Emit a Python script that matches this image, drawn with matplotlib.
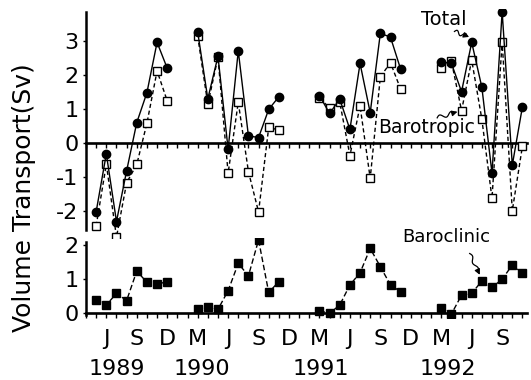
import numpy as np
import matplotlib
matplotlib.use("Agg")
import matplotlib.pyplot as plt
from matplotlib.transforms import blended_transform_factory

plt.rcParams['font.family'] = ['DejaVu Sans']

# Observation months: (year, month) per segment
years = [1989, 1990, 1991, 1992]
seg_months = [list(range(5, 13)), list(range(3, 12)), list(range(3, 12)), list(range(3, 12))]

total = [
    [-2.02, -0.32, -2.31, -0.82, 0.60, 1.48, 2.96, 2.20],
    [3.27, 1.30, 2.55, -0.18, 2.71, 0.21, 0.16, 0.99, 1.36],
    [1.39, 0.87, 1.29, 0.40, 2.34, 0.89, 3.23, 3.11, 2.17],
    [2.39, 2.34, 1.51, 2.96, 1.64, -0.89, 3.86, -0.65, 1.07],
]
barotropic = [
    [-2.44, -0.62, -2.77, -1.17, -0.63, 0.58, 2.12, 1.24],
    [3.15, 1.14, 2.52, -0.89, 1.20, -0.84, -2.03, 0.46, 0.38],
    [1.31, 1.04, 1.20, -0.37, 1.09, -1.04, 1.95, 2.36, 1.58],
    [2.20, 2.41, 0.95, 2.44, 0.70, -1.63, 2.98, -1.99, -0.09],
]
baroclinic = [
    [0.38, 0.23, 0.57, 0.36, 1.23, 0.90, 0.84, 0.92],
    [0.11, 0.18, 0.10, 0.65, 1.46, 1.09, 2.15, 0.60, 0.92],
    [0.06, -0.02, 0.23, 0.82, 1.18, 1.90, 1.36, 0.82, 0.62],
    [0.13, -0.04, 0.52, 0.57, 0.94, 0.75, 0.99, 1.41, 1.17],
]

tick_labels = ['J', 'S', 'D', 'M', 'J', 'S', 'D', 'M', 'J', 'S', 'D', 'M', 'J', 'S']
tick_months = [(1989, 6), (1989, 9), (1989, 12), (1990, 3), (1990, 6), (1990, 9), (1990, 12),
               (1991, 3), (1991, 6), (1991, 9), (1991, 12), (1992, 3), (1992, 6), (1992, 9)]
year_labels = ['1989', '1990', '1991', '1992']
year_pos = [(1989, 7), (1990, 3.4), (1991, 3.1), (1992, 3.6)]


def mi(y, m):
    return (y - 1989) * 12 + (m - 1)


fig = plt.figure(figsize=(5.31, 3.80), dpi=100)
L, W = 0.162, 0.8305
ax1 = fig.add_axes([L, 0.3732, W, 0.6039])
ax2 = fig.add_axes([L, 0.1637, W, 0.2092])
for ax in (ax1, ax2):
    ax.patch.set_alpha(0)
    ax.set_xlim(3.0, 46.45)
    ax.spines['top'].set_visible(False)
    ax.spines['right'].set_visible(False)
    ax.spines['bottom'].set_position(('data', 0))
    ax.spines['bottom'].set_linewidth(1.9)
    ax.spines['left'].set_linewidth(1.8)
    ax.set_xticks(np.arange(3, 47), minor=True)
    ax.tick_params(axis='x', which='both', direction='out', length=3.5, width=1.0)
    ax.tick_params(axis='y', direction='out', length=2.5, width=1.0, labelsize=16, pad=3)

ax1.set_ylim(-2.8, 3.95)
ax1.spines['left'].set_bounds(-2.56, 3.85)
ax1.set_yticks([-2, -1, 0, 1, 2, 3])
ax1.set_yticklabels(['-2', '-1', '0', '1', '2', '3'])
ax1.set_xticks([mi(y, m) for y, m in tick_months])
ax1.set_xticklabels([])

ax2.set_ylim(-0.15, 2.2)
ax2.spines['left'].set_bounds(-0.07, 2.1)
ax2.set_yticks([0, 1, 2])
ax2.set_xticks([mi(y, m) for y, m in tick_months])
ax2.set_xticklabels(tick_labels, fontsize=16)
ax2.tick_params(axis='x', which='major', pad=8)

for i, yr in enumerate(years):
    xs = [mi(yr, m) for m in seg_months[i]]
    ax1.plot(xs, barotropic[i], ls=(0, (3, 2)), color='black', lw=1.0, marker='s',
             ms=6.3, mfc='white', mec='black', mew=1.0, zorder=3)
    ax1.plot(xs, total[i], ls='-', color='black', lw=1.0, marker='o',
             ms=6, mfc='black', mec='black', zorder=4)
    ax2.plot(xs, baroclinic[i], ls=(0, (4, 2)), color='black', lw=1.0, marker='s',
             ms=5.5, mfc='black', mec='black', zorder=3)


def squiggle_arrow(ax, start, end, amp=2.0, waves=1.5):
    """Wavy leader line with an arrow head, drawn in display space."""
    fig.canvas.draw()
    p0 = ax.transData.transform(start)
    p1 = ax.transData.transform(end)
    d = p1 - p0
    n = np.array([-d[1], d[0]]) / np.hypot(*d)
    t = np.linspace(0, 0.85, 60)
    pts = p0 + np.outer(t, d) + np.outer(amp * np.sin(2 * np.pi * waves * t / 0.85), n)
    data = ax.transData.inverted().transform(pts)
    ax.plot(data[:, 0], data[:, 1], color='black', lw=0.9, clip_on=False, zorder=5)
    ax.annotate('', xy=end, xytext=tuple(data[-1]), annotation_clip=False,
                arrowprops=dict(arrowstyle='-|>', color='black', lw=0.9,
                                mutation_scale=8, shrinkA=0, shrinkB=0))


ax1.text(38.25, 3.62, 'Total', fontsize=14, ha='center', va='center')
squiggle_arrow(ax1, (39.3, 3.28), (40.75, 3.12))
ax1.text(36.58, 0.45, 'Barotropic', fontsize=13.5, ha='center', va='center')
squiggle_arrow(ax1, (37.6, 0.74), (39.6, 0.92))
ax2.text(38.45, 2.24, 'Baroclinic', fontsize=13, ha='center', va='center', clip_on=False)
squiggle_arrow(ax2, (40.8, 1.75), (41.8, 1.12), amp=1.5)

tr = blended_transform_factory(ax2.transData, fig.transFigure)
for lab, (y, m) in zip(year_labels, year_pos):
    ax2.text(mi(y, m), 0.030, lab, transform=tr, fontsize=16, ha='center', va='center')

fig.text(0.045, 0.48, 'Volume Transport(Sv)', rotation=90, fontsize=18,
         ha='center', va='center')

fig.savefig('out.png', dpi=100)
